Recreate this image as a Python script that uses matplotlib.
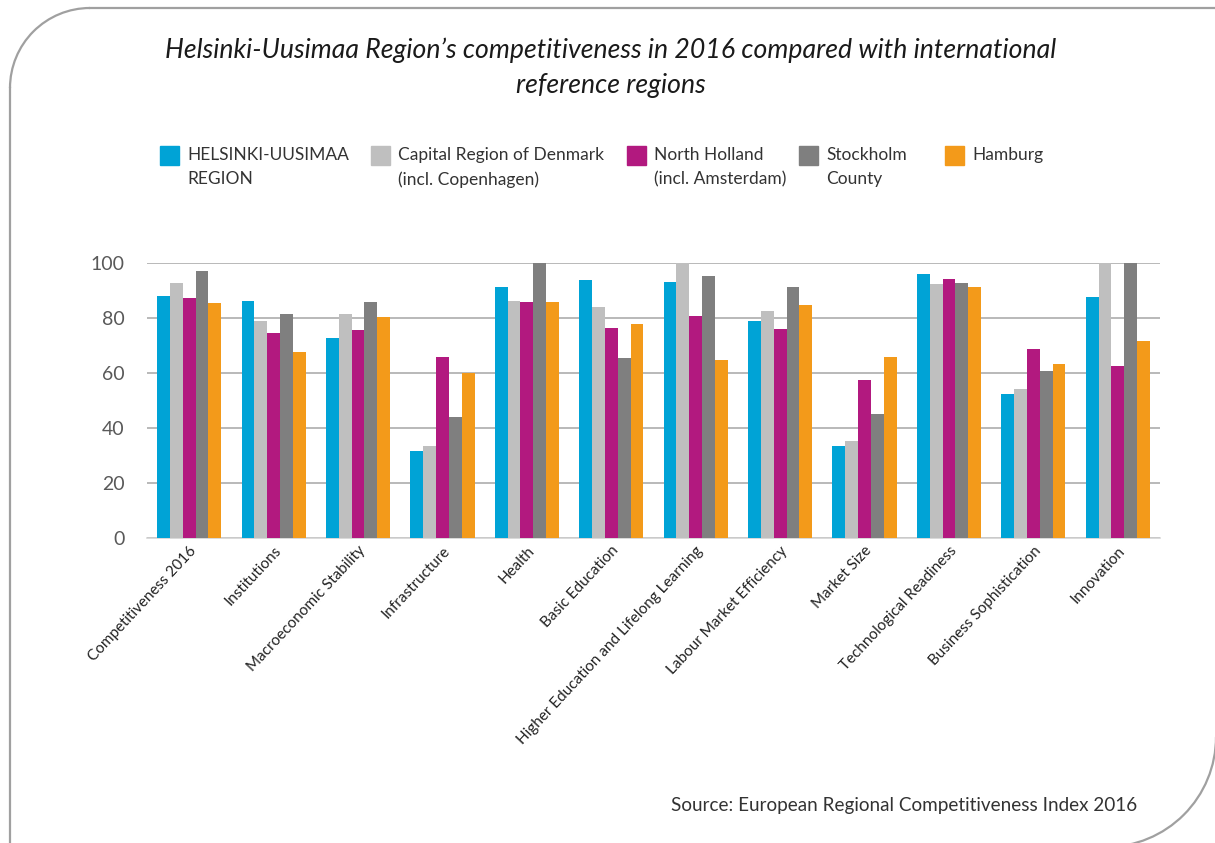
import numpy as np
import matplotlib.pyplot as plt
from matplotlib.patches import Rectangle, Arc
from matplotlib.lines import Line2D

# data
categories = ["Competitiveness 2016", "Institutions", "Macroeconomic Stability",
              "Infrastructure", "Health", "Basic Education",
              "Higher Education and Lifelong Learning", "Labour Market Efficiency",
              "Market Size", "Technological Readiness", "Business Sophistication",
              "Innovation"]
series_names = ["HELSINKI-UUSIMAA\nREGION", "Capital Region of Denmark\n(incl. Copenhagen)",
                "North Holland\n(incl. Amsterdam)", "Stockholm\nCounty", "Hamburg"]
helsinki = [88.1, 86.2, 72.8, 31.6, 91.4, 93.7, 93.2, 78.8, 33.4, 96.0, 52.5, 87.7]
copenhagen = [92.7, 78.8, 81.6, 33.4, 86.3, 83.9, 100.0, 82.6, 35.2, 92.4, 54.3, 100.0]
north_holland = [87.2, 74.7, 75.7, 65.9, 85.9, 76.5, 80.7, 76.1, 57.6, 94.1, 68.7, 62.6]
stockholm = [97.0, 81.3, 85.9, 44.1, 100.0, 65.4, 95.2, 91.4, 45.0, 92.9, 60.8, 100.0]
hamburg = [85.4, 67.8, 80.2, 59.9, 85.9, 78.0, 64.9, 84.9, 65.9, 91.4, 63.1, 71.6]
series = [helsinki, copenhagen, north_holland, stockholm, hamburg]
colors = ["#00A3D6", "#BFBFBF", "#B2197F", "#7F7F7F", "#F39A1A"]
yticks = [0, 20, 40, 60, 80, 100]

W, H = 1215, 843
fig = plt.figure(figsize=(W / 100, H / 100), dpi=100)
fig.patch.set_facecolor("white")

# frame with rounded corners (pixel space, y pointing up)
bg = fig.add_axes([0, 0, 1, 1])
bg.set_xlim(0, W)
bg.set_ylim(0, H)
bg.axis("off")
fc = "#A0A0A0"
bg.add_line(Line2D([10, 10], [H - 88, -5], color=fc, lw=1.6))
bg.add_line(Line2D([90, W + 5], [H - 8, H - 8], color=fc, lw=1.6))
bg.add_patch(Arc((90, H - 88), 160, 160, theta1=90, theta2=180, color=fc, lw=1.6))
bg.add_patch(Arc((1106, H - 737), 220, 220, theta1=270, theta2=360, color=fc, lw=1.6))

# title
fig.text(611 / W, 1 - 68 / H,
         "Helsinki-Uusimaa Region\u2019s competitiveness in 2016 compared with international\nreference regions",
         ha="center", va="center", fontsize=19.2, style="italic", family="Lato",
         color="#1a1a1a", linespacing=1.5)

# legend
leg_x = [160, 371, 627, 799, 945]
for x0, name, c in zip(leg_x, series_names, colors):
    fig.patches.append(Rectangle((x0 / W, 1 - 165 / H), 19 / W, 19 / H,
                                 transform=fig.transFigure, color=c))
    fig.text((x0 + 27) / W, 1 - 147 / H, name, ha="left", va="top",
             fontsize=12.5, family="Lato", color="#333333", linespacing=1.65)

# bars
ax = fig.add_axes([147 / W, 1 - 538 / H, 1013 / W, 275 / H])
x = np.arange(len(categories))
bw = 0.152
for i, (vals, c) in enumerate(zip(series, colors)):
    ax.bar(x + (i - 2) * bw, vals, bw, color=c, zorder=3, linewidth=0)

ax.set_xlim(-0.5, len(categories) - 0.5)
ax.set_ylim(0, 100)
ax.set_yticks(yticks)
ax.set_yticklabels([str(t) for t in yticks], fontsize=14, color="#595959", family="Lato")
ax.tick_params(axis="y", length=0, pad=16)
ax.tick_params(axis="x", length=0, pad=4)
ax.set_xticks(x)
ax.set_xticklabels(categories, rotation=47, ha="right", rotation_mode="anchor",
                   fontsize=11, family="Lato", color="#222222")
ax.grid(axis="y", color="#A6A6A6", lw=1.1, zorder=0)
for s in ["left", "right", "top"]:
    ax.spines[s].set_visible(False)
ax.spines["bottom"].set_color("#D0D0D0")
ax.spines["bottom"].set_linewidth(1.1)
ax.set_facecolor("none")

fig.text(1137 / W, 1 - 806 / H, "Source: European Regional Competitiveness Index 2016",
         ha="right", va="center", fontsize=13.6, family="Lato", color="#333333")

fig.savefig("out.png", dpi=100)
